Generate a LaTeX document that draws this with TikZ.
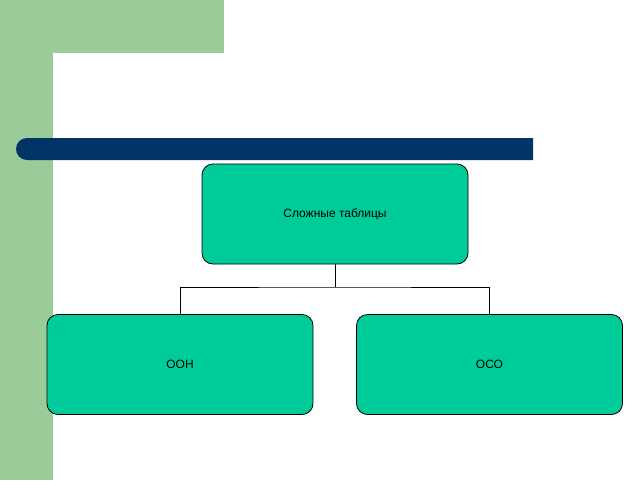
\documentclass[tikz,border=0pt]{standalone}
\usepackage{fontspec}
\setmainfont{Liberation Sans}
\begin{document}
\begin{tikzpicture}[x=1pt,y=-1pt,
  box/.style={draw=black,line width=0.8pt,fill=boxc,rounded corners=11pt,minimum width=266pt,minimum height=100pt,font=\fontsize{12}{14}\selectfont},
  conn/.style={draw=black,line width=1pt}]
\definecolor{grn}{HTML}{99CC99}
\definecolor{navy}{HTML}{003366}
\definecolor{boxc}{HTML}{00CC99}
\useasboundingbox (0,0) rectangle (640,480);
\fill[white] (0,0) rectangle (640,480);
\fill[grn] (0,0) rectangle (53,480);
\fill[grn] (0,0) rectangle (224,53);
\fill[white] (53,480) -- (53,71) arc[start angle=180,end angle=90,x radius=18,y radius=-18] -- (224,53) -- (224,480) -- cycle;
\fill[navy] (533,138) -- (27,138) arc[start angle=90,end angle=270,x radius=11,y radius=-11] -- (533,160) -- cycle;
\node[box] (top) at (335,214) {Сложные таблицы};
\node[box] (l) at (180,364.5) {ООН};
\node[box] (r) at (489.5,364.5) {ОСО};
\coordinate (j) at (335,287);
\draw[conn] (top.south) -- (j);
\draw[conn] (l.north) |- (j) -| (r.north);
\end{tikzpicture}
\end{document}
